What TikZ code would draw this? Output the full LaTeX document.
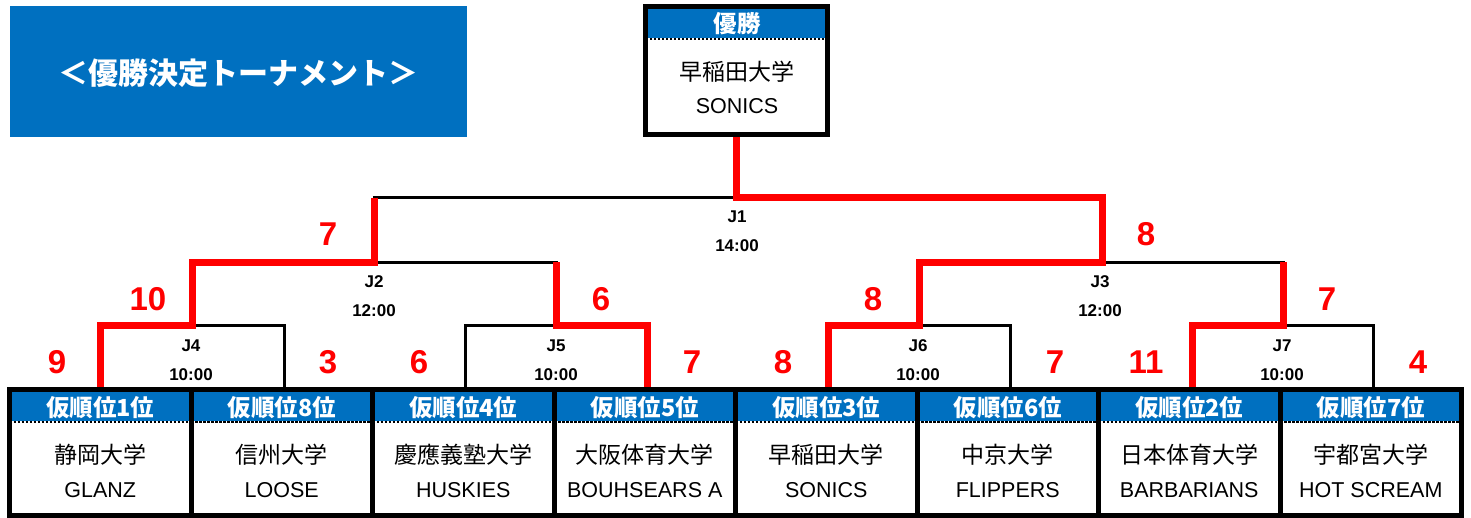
\documentclass[tikz,border=0pt]{standalone}
\usepackage{fontspec}
\setmainfont{Liberation Sans}
\newfontfamily\jp{Noto Sans CJK JP}
\definecolor{hdrblue}{HTML}{0070C0}
\definecolor{winred}{HTML}{FF0000}
\tikzset{
  bracket/.style={line width=3pt, black},
  winpath/.style={line width=7pt, winred, line join=miter},
  score/.style={inner sep=0, anchor=base, text=winred, font=\fontsize{33}{33}\selectfont\bfseries},
  mlabel/.style={inner sep=0, anchor=base, font=\fontsize{17}{17}\selectfont\bfseries},
  boxframe/.style={draw, line width=5pt, minimum width=181.5pt, minimum height=125.5pt, inner sep=0},
  hdrtext/.style={inner sep=0, anchor=base, text=white, font=\fontsize{23.5}{23.5}\selectfont\jp\bfseries},
  jname/.style={inner sep=0, anchor=base, font=\fontsize{23}{23}\selectfont\jp},
  ename/.style={inner sep=0, anchor=base, font=\fontsize{21.5}{21.5}\selectfont},
  dotline/.style={line width=2.5pt, dash pattern=on 2.5pt off 1.5pt},
}
\begin{document}
\begin{tikzpicture}[x=1pt,y=-1pt]
\useasboundingbox (0,0) rectangle (1471,517);
% title
\node[fill=hdrblue, minimum width=457pt, minimum height=131pt, inner sep=0] (title) at (238.5,71.5) {};
\node[inner sep=0, anchor=base, text=white, font=\fontsize{30}{30}\selectfont\jp\bfseries] (titletext) at (238,84.5) {＜優勝決定トーナメント＞};
% coordinates
\coordinate (p1) at (100,389.5);
\coordinate (p2) at (284,389.5);
\coordinate (p3) at (465,389.5);
\coordinate (p4) at (647,389.5);
\coordinate (p5) at (828,389.5);
\coordinate (p6) at (1010,389.5);
\coordinate (p7) at (1192,389.5);
\coordinate (p8) at (1373,389.5);
\coordinate (m4) at (192,325.5);
\coordinate (m5) at (556,325.5);
\coordinate (m6) at (919.5,325.5);
\coordinate (m7) at (1283,325.5);
\coordinate (m2) at (374,262);
\coordinate (m3) at (1102,262);
\coordinate (m1) at (736.5,197.5);
% black brackets
\draw[bracket] (p1) |- (m4) -| (p2);
\draw[bracket] (p3) |- (m5) -| (p4);
\draw[bracket] (p5) |- (m6) -| (p6);
\draw[bracket] (p7) |- (m7) -| (p8);
\draw[bracket] (m4) |- (m2) -| (m5);
\draw[bracket] (m6) |- (m3) -| (m7);
\draw[bracket] (m2) |- (m1) -| (m3);
% champion box
\node[boxframe, minimum height=128pt] (champ) at (736.5,70.5) {};
% winners
\draw[winpath] (p1) |- (m4) |- (m2) -- (m2 |- m1);
\draw[winpath] (p4) |- (m5) -- (m5 |- m2);
\draw[winpath] (p7) |- (m7) -- (m7 |- m3);
\draw[winpath] (p5) |- (m6) |- (m3) |- (m1) -- (champ.south);
% match labels
\node[mlabel] (j1) at (737,222) {J1};
\node[mlabel] (j1t) at (737,251.5) {14:00};
\node[mlabel] (j2) at (374,287) {J2};
\node[mlabel] (j2t) at (374,316) {12:00};
\node[mlabel] (j3) at (1100,287) {J3};
\node[mlabel] (j3t) at (1100,316) {12:00};
\node[mlabel] (j4) at (191,351) {J4};
\node[mlabel] (j4t) at (191,380) {10:00};
\node[mlabel] (j5) at (556,351) {J5};
\node[mlabel] (j5t) at (556,380) {10:00};
\node[mlabel] (j6) at (918,351) {J6};
\node[mlabel] (j6t) at (918,380) {10:00};
\node[mlabel] (j7) at (1282,351) {J7};
\node[mlabel] (j7t) at (1282,380) {10:00};
% scores
\node[score] (s1a) at (328,245) {7};
\node[score] (s1b) at (1146,245) {8};
\node[score] (s2a) at (148,310) {10};
\node[score] (s2b) at (601,310) {6};
\node[score] (s3a) at (873,310) {8};
\node[score] (s3b) at (1327,310) {7};
\node[score] (s4a) at (57,373) {9};
\node[score] (s4b) at (328,373) {3};
\node[score] (s5a) at (419,373) {6};
\node[score] (s5b) at (692,373) {7};
\node[score] (s6a) at (783,373) {8};
\node[score] (s6b) at (1055,373) {7};
\node[score] (s7a) at (1146,373) {11};
\node[score] (s7b) at (1418,373) {4};
% champion contents
\fill[hdrblue] (645.75,6.5) rectangle (827.25,37.5);
\draw[white, line width=2.5pt] (645.75,38.75) -- (827.25,38.75);
\draw[dotline] (645.75,38.75) -- (827.25,38.75);
\node[hdrtext] (champh) at (737,32.5) {優勝};
\node[jname] (champn) at (737,80.5) {早稲田大学};
\node[ename] (champe) at (737,113) {SONICS};
\node[boxframe, minimum height=128pt] at (champ) {};
% team boxes
\foreach \i/\rk/\jn/\en in {1/1/静岡大学/GLANZ, 2/8/信州大学/LOOSE, 3/4/慶應義塾大学/HUSKIES, 4/5/大阪体育大学/BOUHSEARS A, 5/3/早稲田大学/SONICS, 6/6/中京大学/FLIPPERS, 7/2/日本体育大学/BARBARIANS, 8/7/宇都宮大学/HOT SCREAM}{
  \pgfmathsetmacro\cx{9.5+181.5*(\i-1)+90.75}
  \fill[hdrblue] (\cx-90.75,389.5) rectangle (\cx+90.75,420.5);
  \draw[white, line width=2.5pt] (\cx-90.75,421.75) -- (\cx+90.75,421.75);
  \draw[dotline] (\cx-90.75,421.75) -- (\cx+90.75,421.75);
  \node[hdrtext] (h\i) at (\cx,416.5) {仮順位\rk 位};
  \node[jname] (n\i) at (\cx,463.5) {\jn};
  \node[ename] (e\i) at (\cx,497) {\en};
  \node[boxframe] (t\i) at (\cx,452.25) {};
}
\end{tikzpicture}
\end{document}
